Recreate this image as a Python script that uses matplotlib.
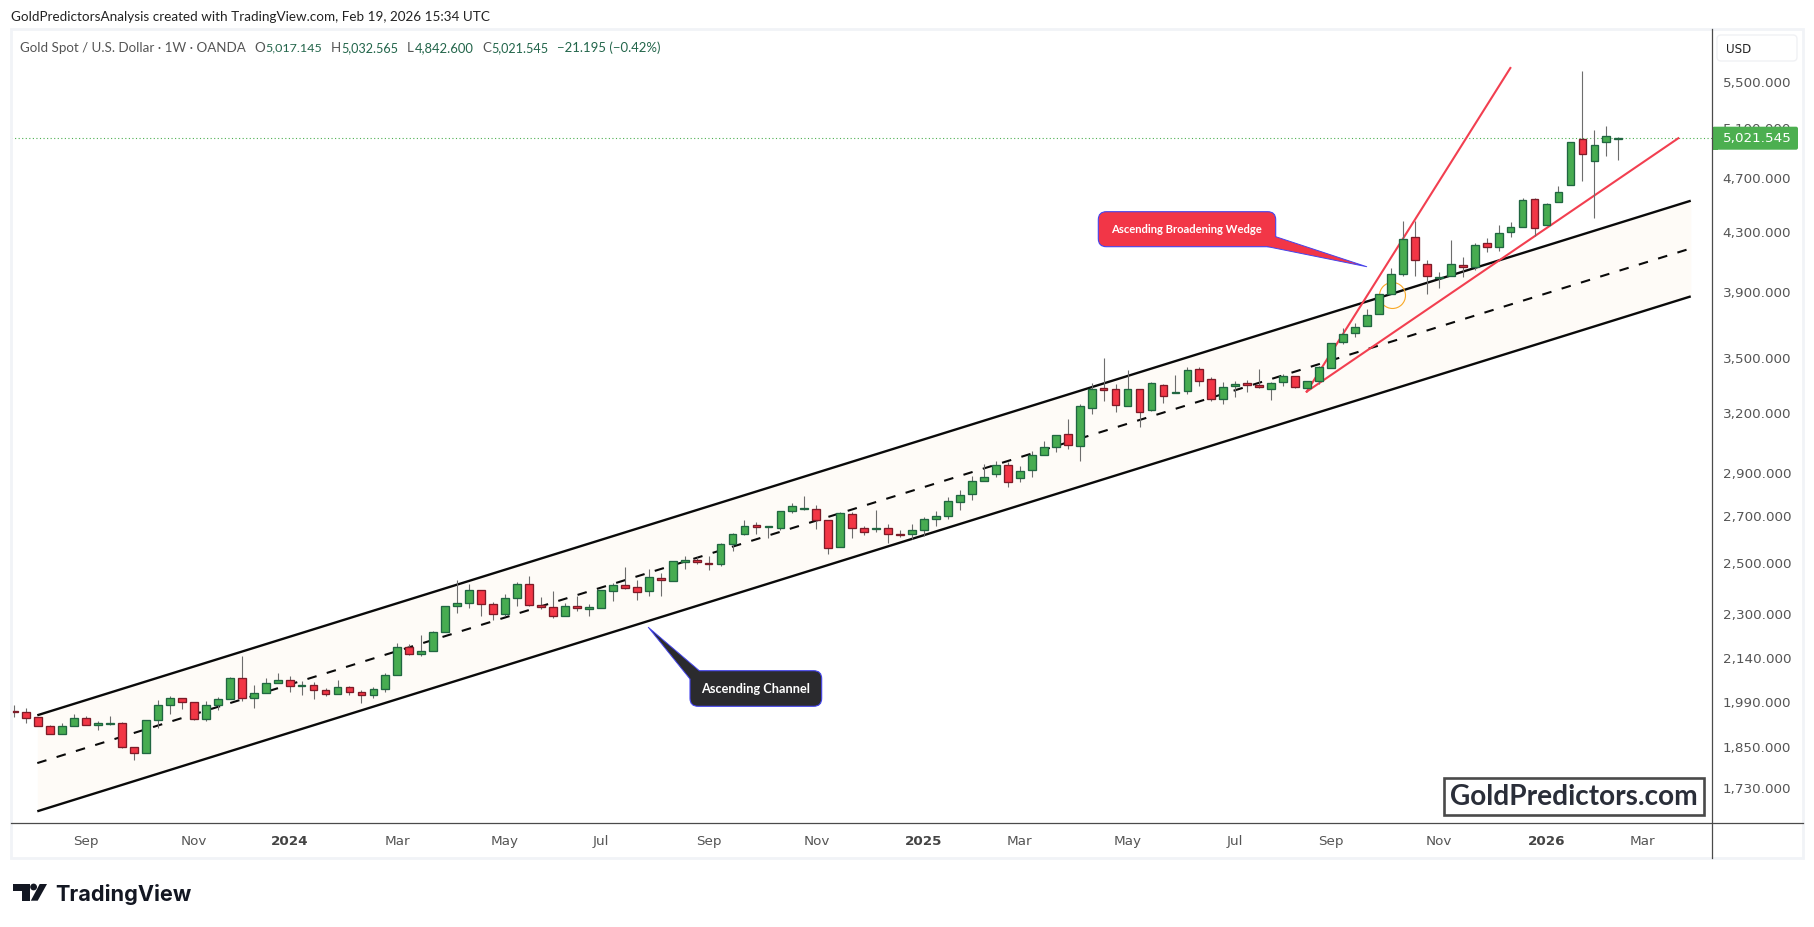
import numpy as np
import matplotlib
matplotlib.use('Agg')
import matplotlib.pyplot as plt
from matplotlib.patches import FancyBboxPatch, Polygon, Rectangle, Circle
from matplotlib.ticker import NullLocator
from matplotlib.transforms import ScaledTranslation

# Weekly XAU/USD candles, oldest first
opens = [1964,1960,1944,1915,1890,1915,1940,1918,1923,1925,1850,1832,1934,1982,2005,1992,1939,1982,2002,2072,2005,2022,2055,2065,2045,
         2048,2031,2018,2041,2025,2015,2035,2082,2180,2155,2166,2234,2331,2343,2393,2339,2301,2362,2417,2335,2328,2293,2331,2320,2324,
         2389,2413,2405,2389,2441,2429,2506,2514,2502,2498,2581,2623,2662,2654,2649,2724,2735,2733,2684,2568,2711,2649,2645,2649,2625,
         2623,2641,2689,2702,2765,2801,2862,2895,2938,2876,2914,2986,3026,3091,3031,3225,3333,3327,3236,3327,3215,3349,3306,3317,3438,
         3382,3273,3344,3360,3349,3327,3366,3399,3333,3371,3444,3594,3647,3689,3763,3888,4018,4269,4084,3996,4005,4078,4064,4227,4200,
         4304,4340,4543,4354,4521,4649,5013,4835,4988,5017]
highs = [1983,1972,1946,1919,1926,1954,1947,1931,1947,1928,1850,1934,2000,2013,2007,1994,1995,2009,2075,2149,2048,2072,2089,2079,2062,
         2058,2038,2065,2045,2033,2041,2090,2194,2191,2224,2239,2331,2434,2418,2393,2347,2379,2425,2450,2367,2389,2344,2370,2339,2393,
         2422,2487,2433,2477,2461,2510,2532,2526,2531,2585,2628,2686,2676,2658,2724,2760,2794,2751,2684,2720,2720,2658,2730,2667,2641,
         2667,2698,2724,2788,2820,2885,2942,2959,2955,2933,3006,3056,3086,3169,3247,3360,3503,3355,3433,3327,3366,3355,3405,3450,3450,
         3394,3366,3371,3377,3438,3366,3410,3399,3371,3459,3588,3679,3710,3794,3888,4060,4385,4385,4113,4031,4250,4134,4227,4264,4354,
         4375,4551,4553,4516,4644,4988,5607,5090,5124,5033]
lows = [1946,1927,1915,1890,1890,1915,1918,1905,1920,1849,1813,1832,1911,1954,1971,1936,1933,1968,2002,1996,1975,2022,2055,2027,2017,
        2004,2013,2018,2017,1988,2005,2027,2082,2154,2150,2166,2234,2307,2326,2296,2281,2296,2334,2331,2321,2288,2293,2312,2296,2324,
        2353,2397,2357,2373,2370,2429,2477,2498,2476,2489,2551,2619,2626,2609,2641,2715,2729,2648,2542,2568,2609,2619,2632,2588,2612,
        2602,2615,2661,2692,2732,2777,2862,2884,2837,2860,2884,2986,3004,3019,2960,3197,3266,3208,3236,3126,3210,3252,3306,3300,3344,
        3263,3250,3288,3315,3333,3272,3348,3333,3333,3357,3444,3584,3628,3689,3763,3888,4005,4009,3892,3931,4005,4000,4044,4170,4177,
        4274,4340,4281,4354,4521,4649,4685,4409,4881,4843]
closes = [1962,1942,1915,1890,1915,1940,1918,1925,1926,1850,1832,1934,1982,2005,1992,1939,1982,2002,2072,2005,2022,2055,2065,2045,2048,
          2031,2018,2041,2025,2015,2035,2082,2180,2155,2166,2234,2331,2343,2393,2339,2301,2362,2417,2335,2328,2293,2331,2324,2328,2393,
          2413,2401,2386,2445,2433,2510,2514,2506,2498,2581,2623,2658,2654,2658,2724,2747,2738,2684,2564,2715,2649,2632,2649,2623,2622,
          2641,2689,2702,2769,2797,2862,2880,2938,2857,2909,2986,3026,3086,3036,3236,3327,3322,3241,3327,3204,3360,3289,3311,3433,3371,
          3273,3338,3355,3349,3338,3360,3399,3338,3371,3450,3588,3641,3683,3757,3888,4018,4255,4111,4005,4000,4084,4064,4213,4200,4297,
          4340,4536,4332,4506,4596,4988,4891,4964,5038,5022]

last_price = 5021.545

price_ticks = [5500, 5100, 4700, 4300, 3900, 3500, 3200, 2900, 2700, 2500, 2300, 2140, 1990, 1850, 1730]
date_ticks = [6, 15, 23, 32, 41, 49, 58, 67, 76, 84, 93, 102, 110, 119, 128, 136]
date_labels = ['Sep', 'Nov', '2024', 'Mar', 'May', 'Jul', 'Sep', 'Nov', '2025', 'Mar', 'May', 'Jul', 'Sep', 'Nov', '2026', 'Mar']

# Drawn studies: bar index and price at each end
channel_bars = [1.92, 140.05]
channel_upper = [1950, 4533]
channel_middle = [1803, 4192]
channel_lower = [1666, 3875]
wedge_bars_steep = [107.97, 124.98]
wedge_prices_steep = [3315, 5635]
wedge_bars_flat = [107.97, 139.01]
wedge_prices_flat = [3315, 5022]
marker_bar, marker_price = 115.07, 3882

W, H = 1814, 928
GREEN, GREEN_EDGE = '#47ac51', '#206641'
RED, RED_EDGE = '#f23645', '#7d1b28'
MARK_RED = '#f23f50'
TEXT_GREY = '#555555'
AXIS_DARK = '#4a4a4a'
UI_FONT = ['Lato', 'DejaVu Sans']

plt.rcParams['font.family'] = ['DejaVu Sans']
fig = plt.figure(figsize=(W / 100, H / 100), dpi=100, facecolor='white')

# Price pane on a logarithmic scale
ax = fig.add_axes([11 / W, (H - 824.3) / H, 1700.7 / W, 794.3 / H], zorder=1)
ax.set_yscale('log')
ax.set_xlim(-0.276, 141.80)
ax.set_ylim(1633.5, 6006.9)

o, h, l, c = map(np.array, (opens, highs, lows, closes))
x = np.arange(len(o))
up = c >= o

# Channel band and its three rails
ax.fill_between(channel_bars, channel_lower, channel_upper, color='#fefbf7', lw=0, zorder=1)
ax.plot(channel_bars, channel_upper, color='#0a0a0a', lw=1.7, zorder=2, solid_capstyle='butt')
ax.plot(channel_bars, channel_lower, color='#0a0a0a', lw=1.7, zorder=2, solid_capstyle='butt')
ax.plot(channel_bars, channel_middle, color='#0a0a0a', lw=1.5, zorder=2, dashes=(4.6, 5.1), dash_capstyle='butt')

# Broadening wedge and the breakout marker
ax.plot(wedge_bars_steep, wedge_prices_steep, color=MARK_RED, lw=1.5, zorder=2.1)
ax.plot(wedge_bars_flat, wedge_prices_flat, color=MARK_RED, lw=1.5, zorder=2.1)
ax.plot([marker_bar], [marker_price], marker='o', ms=18.7, mfc='none', mec='#f9a825', mew=0.8, zorder=2.2)

ax.axhline(last_price, color='#4caf50', lw=0.8, ls=(0, (1, 2.2)), zorder=1.5)

# Candles: wick first, body over it
ax.vlines(x, l, h, color='#6d6d6d', lw=0.8, zorder=3)
bottoms = np.minimum(o, c)
heights = np.abs(c - o)
ax.bar(x[up], heights[up], bottom=bottoms[up], width=0.65, color=GREEN, edgecolor=GREEN_EDGE, lw=0.95, zorder=4)
ax.bar(x[~up], heights[~up], bottom=bottoms[~up], width=0.65, color=RED, edgecolor=RED_EDGE, lw=0.95, zorder=4)

# Axes styling
for side in ('top', 'left', 'right', 'bottom'):
    ax.spines[side].set_visible(False)
ax.yaxis.tick_right()
ax.yaxis.set_minor_locator(NullLocator())
ax.set_yticks(price_ticks)
ax.set_yticklabels([f'{p:,.3f}' for p in price_ticks], fontsize=9.7, color=TEXT_GREY)
ax.tick_params(axis='y', length=0, pad=8.0)
label_lift = ScaledTranslation(0, 1.6 / 100, fig.dpi_scale_trans)
for tick in ax.yaxis.get_major_ticks():
    tick.label2.set_transform(tick.label2.get_transform() + label_lift)
ax.set_xticks(date_ticks)
ax.set_xticklabels(date_labels, fontsize=9.7, color=TEXT_GREY)
ax.tick_params(axis='x', length=0, pad=7.8)
for lab in ax.get_xticklabels():
    if lab.get_text().isdigit():
        lab.set_fontweight('bold')
        lab.set_color('#444444')

# Overlay in figure pixels for the frame, labels and callouts
ov = fig.add_axes([0, 0, 1, 1], zorder=5)
ov.set_xlim(0, W)
ov.set_ylim(H, 0)
ov.axis('off')
ov.patch.set_alpha(0)
renderer = fig.canvas.get_renderer()


def fitted(px, py, s, width, **kw):
    """Place a text and scale its size so that it spans the given pixel width."""
    t = ov.text(px, py, s, **kw)
    t.set_fontsize(t.get_fontsize() * width / t.get_window_extent(renderer).width)
    return t


ov.add_patch(Rectangle((11, 30), 1792, 829, fc='none', ec='#f1f3f7', lw=2.0))
ov.plot([11, 1803], [824.3, 824.3], color=AXIS_DARK, lw=0.9)
ov.plot([1711.7, 1711.7], [30, 859], color=AXIS_DARK, lw=0.9)

# Header line and instrument legend
fitted(10.7, 17, 'GoldPredictorsAnalysis created with TradingView.com, Feb 19, 2026 15:34 UTC', 476,
       family=UI_FONT, color='#222222', va='center', ha='left', fontsize=10)
fitted(20, 48, 'Gold Spot / U.S. Dollar · 1W · OANDA', 225.5, family=UI_FONT, color=TEXT_GREY, va='center', fontsize=10)
legend_runs = [(254.5, 322.3, 'O', '5,017.145'), (330.4, 398.7, 'H', '5,032.565'),
               (407, 473.2, 'L', '4,842.600'), (482, 549, 'C', '5,021.545')]
for x0, x1, letter, value in legend_runs:
    t0 = ov.text(x0, 48, letter, family=UI_FONT, color=TEXT_GREY, va='center', fontsize=9.6)
    lw_px = t0.get_window_extent(renderer).width + 0.5
    fitted(x0 + lw_px, 48, value, x1 - x0 - lw_px, family=UI_FONT, color='#22654a', va='center', fontsize=9.6)
fitted(557, 48, '−21.195 (−0.42%)', 103, family=UI_FONT, color='#22654a', va='center', fontsize=9.6)

# Currency button and last-price tag on the scale
ov.add_patch(FancyBboxPatch((1717, 36), 80, 26, boxstyle='round,pad=0,rounding_size=4',
                            fc='white', ec='#f0f1f4', lw=1.0))
ov.text(1726, 49.5, 'USD', color='#222222', fontsize=8.6, va='center', family='DejaVu Sans')
ov.add_patch(FancyBboxPatch((1712.3, 127.7), 85.7, 23, boxstyle='round,pad=0,rounding_size=2',
                            fc='#4caf50', ec='none'))
ov.add_patch(Rectangle((1712.3, 127.7), 6, 23, fc='#4caf50', ec='none'))
ov.text(1722.7, 138.8, f'{last_price:,.3f}', color='white', fontsize=9.7, va='center', family='DejaVu Sans')


def callout(x0, y0, x1, y1, tail, fill, label, text_xy, text_w):
    """Rounded label box with a pointed tail; tail = (base, tip, base, inner)."""
    edge = '#4444ee'
    ov.add_patch(FancyBboxPatch((x0, y0), x1 - x0, y1 - y0, boxstyle='round,pad=0,rounding_size=8',
                                fc=fill, ec=edge, lw=0.8))
    ov.add_patch(Polygon(tail, closed=True, fc=fill, ec='none'))
    ov.plot([tail[0][0], tail[1][0], tail[2][0]], [tail[0][1], tail[1][1], tail[2][1]], color=edge, lw=0.7)
    fitted(text_xy[0], text_xy[1], label, text_w, color='white', fontweight='bold', family=UI_FONT,
           ha='center', va='center', fontsize=8)


callout(1098.3, 212.7, 1275.7, 247.7,
        [(1275.7, 237.7), (1366.7, 267.7), (1267.7, 247.7), (1264, 238)],
        '#f23647', 'Ascending Broadening Wedge', (1186.7, 229.3), 153)
callout(690, 671.7, 821.7, 707.3,
        [(699.3, 671.7), (648.3, 628.3), (690, 680), (701, 681)],
        '#2b2b2e', 'Ascending Channel', (756, 688.7), 109)

# Site watermark
ov.add_patch(Rectangle((1443.5, 778.5), 260, 37, fc='white', ec=AXIS_DARK, lw=1.9))
fitted(1573.5, 797, 'GoldPredictors.com', 248, color='#2a2e39', fontweight='bold', family=UI_FONT,
       ha='center', va='center', fontsize=20)

# TradingView logotype
logo = '#131722'
ov.add_patch(Polygon([(13.3, 885), (30, 885), (30, 901.7), (21.7, 901.7), (21.7, 891.7), (13.3, 891.7)], fc=logo, ec='none'))
ov.add_patch(Circle((33.6, 888), 3.4, fc=logo, ec='none'))
ov.add_patch(Polygon([(39.7, 885), (47, 885), (37.7, 901.7), (30.8, 901.7)], fc=logo, ec='none'))
fitted(55, 901.2, 'TradingView', 136, color=logo, fontweight='bold', family='Inter', va='baseline', fontsize=18)

fig.savefig('out.png', dpi=100, facecolor='white')
